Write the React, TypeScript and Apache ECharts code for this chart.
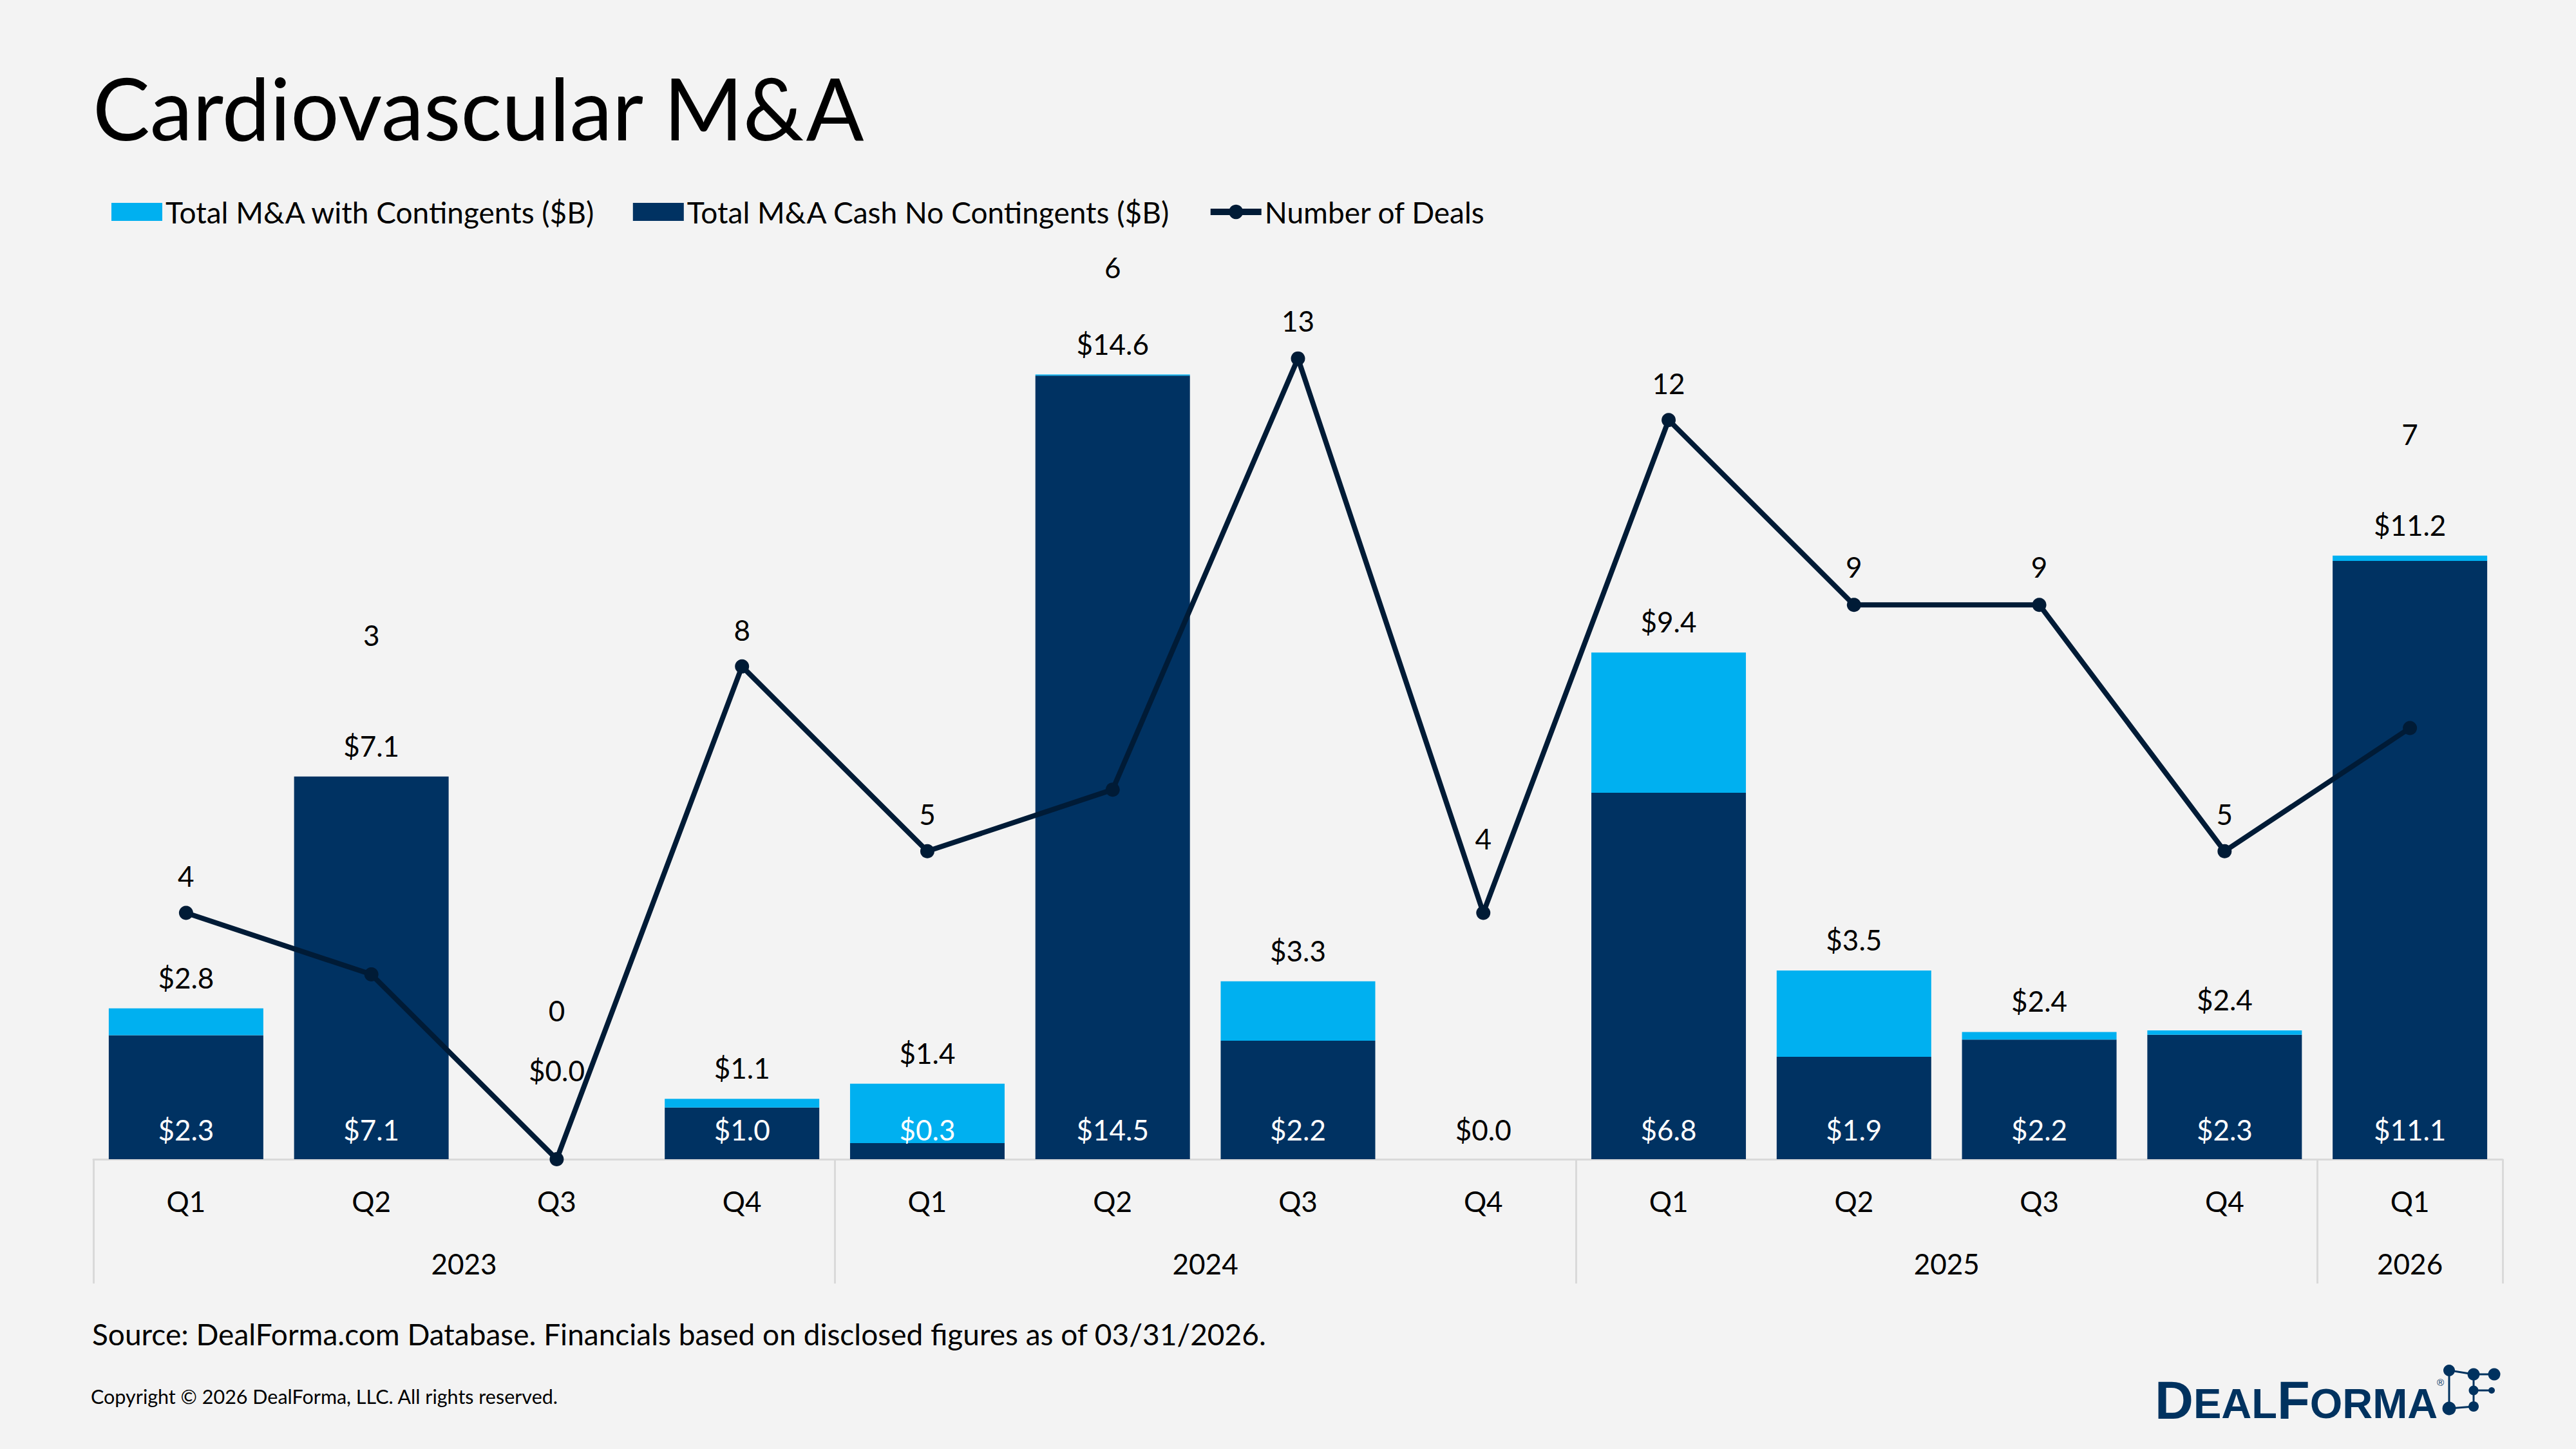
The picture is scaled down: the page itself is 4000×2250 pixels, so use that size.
import React, { useEffect, useRef } from "react";
import * as echarts from "echarts";

// ---------- data ----------
const quarters = ["Q1", "Q2", "Q3", "Q4", "Q1", "Q2", "Q3", "Q4", "Q1", "Q2", "Q3", "Q4", "Q1"];
const years = ["2023", "2024", "2025", "2026"];
const yearBounds = [0, 4, 8, 12, 13]; // quarter index where each year starts / ends
const totalWithContingents: (number | null)[] = [2.8, 7.1, 0.0, 1.12, 1.4, 14.56, 3.3, null, 9.4, 3.5, 2.36, 2.39, 11.2];
const cashNoContingents: (number | null)[] = [2.3, 7.1, null, 0.96, 0.3, 14.54, 2.2, 0.0, 6.8, 1.9, 2.22, 2.31, 11.1];
const numberOfDeals = [4, 3, 0, 8, 5, 6, 13, 4, 12, 9, 9, 5, 7];

// ---------- label layout (pixel lifts, as placed in the original) ----------
const dealLabelLift = [-57, -527, -231, -57, -58, -811, -59, -115, -57, -59, -59, -58, -457];
const totalLabelLift = [0, 0, -90, 0, 0, 0, 0, 0, 0, 0, 0, 0, 0];

const FONT = "Lato, 'Open Sans', 'DejaVu Sans', sans-serif";
const NAVY = "#003262";
const LIGHT = "#00B0F0";
const LINE = "#001B36";
const GRAY = "#D9D9D9";
const LOGO = "#00325F";

const round2 = (v: number) => Math.round(v * 100) / 100;

export default function App() {
  const ref = useRef<HTMLDivElement>(null);

  useEffect(() => {
    const el = ref.current;
    if (!el) return;
    const chart = echarts.init(el, null, { renderer: "svg", width: 4000, height: 2250 });

    const yearCenters = years.map((_, i) => (yearBounds[i] + yearBounds[i + 1]) / 2);

    const cashData = cashNoContingents.map((v) =>
      v === null ? null : v === 0 ? { value: v, label: { color: "#000" } } : { value: v }
    );
    const contData = totalWithContingents.map((t, i) => {
      if (t === null) return null;
      const item: any = { value: round2(t - (cashNoContingents[i] ?? 0)) };
      if (totalLabelLift[i]) item.label = { offset: [0, totalLabelLift[i]] };
      return item;
    });
    const dealData = numberOfDeals.map((v, i) => ({ value: v, label: { offset: [0, dealLabelLift[i]] } }));

    const labelBase = { fontSize: 44, fontFamily: FONT };

    const option: any = {
      animation: false,
      backgroundColor: "#F3F3F3",
      textStyle: { fontFamily: FONT },
      grid: { left: 145, right: 114, top: 461, bottom: 450, containLabel: false, outerBoundsMode: "none" },
      legend: {
        left: 168,
        top: 301,
        itemWidth: 79,
        itemHeight: 28,
        itemGap: 58,
        textStyle: { fontSize: 46, color: "#000", fontFamily: FONT },
        data: [
          { name: "Total M&A with Contingents ($B)", icon: "rect" },
          { name: "Total M&A Cash No Contingents ($B)", icon: "rect" },
          { name: "Number of Deals", lineStyle: { width: 10 } },
        ],
      },
      xAxis: [
        {
          type: "category",
          data: quarters,
          position: "bottom",
          axisLine: { show: true, lineStyle: { color: GRAY, width: 3 } },
          axisTick: { show: false },
          axisLabel: { interval: 0, margin: 43, color: "#000", ...labelBase },
          splitLine: { show: false },
        },
        {
          type: "value",
          min: 0,
          max: 13,
          position: "bottom",
          offset: 0,
          axisLine: { show: false },
          splitLine: { show: false },
          axisTick: { show: true, customValues: yearBounds, length: 193, lineStyle: { color: GRAY, width: 3 } },
          axisLabel: {
            customValues: yearCenters,
            formatter: (v: number) => years[yearCenters.indexOf(v)] ?? "",
            margin: 140,
            color: "#000",
            ...labelBase,
          },
        },
      ],
      yAxis: [
        { type: "value", min: 0, max: 16, show: false },
        { type: "value", min: 0, max: 14, show: false },
      ],
      series: [
        {
          name: "Total M&A Cash No Contingents ($B)",
          type: "bar",
          stack: "ma",
          xAxisIndex: 0,
          yAxisIndex: 0,
          barCategoryGap: "16.6%",
          itemStyle: { color: NAVY },
          label: {
            show: true,
            position: "insideBottom",
            distance: 24,
            color: "#fff",
            ...labelBase,
            formatter: (p: any) => "$" + Number(p.value).toFixed(1),
          },
          data: cashData,
          z: 2,
        },
        {
          name: "Total M&A with Contingents ($B)",
          type: "bar",
          stack: "ma",
          xAxisIndex: 0,
          yAxisIndex: 0,
          barCategoryGap: "16.6%",
          itemStyle: { color: LIGHT },
          label: {
            show: true,
            position: "top",
            distance: 26,
            color: "#000",
            ...labelBase,
            formatter: (p: any) => "$" + Number(totalWithContingents[p.dataIndex]).toFixed(1),
          },
          data: contData,
          z: 2,
        },
        {
          name: "Number of Deals",
          type: "line",
          xAxisIndex: 0,
          yAxisIndex: 1,
          symbol: "circle",
          symbolSize: 22,
          lineStyle: { color: LINE, width: 8 },
          itemStyle: { color: LINE },
          label: { show: true, position: "inside", color: "#000", ...labelBase },
          data: dealData,
          z: 5,
        },
      ],
      graphic: [
        {
          type: "text",
          x: 144,
          y: 166,
          style: { text: "Cardiovascular M&A", fontSize: 133, fontFamily: FONT, fill: "#000", verticalAlign: "middle" },
        },
        {
          type: "text",
          x: 143,
          y: 2071,
          style: {
            text: "Source: DealForma.com Database. Financials based on disclosed figures as of 03/31/2026.",
            fontSize: 46,
            fontFamily: FONT,
            fill: "#000",
            verticalAlign: "middle",
          },
        },
        {
          type: "text",
          x: 141,
          y: 2168,
          style: {
            text: "Copyright © 2026 DealForma, LLC. All rights reserved.",
            fontSize: 30.5,
            fontFamily: FONT,
            fill: "#000",
            verticalAlign: "middle",
          },
        },
        {
          type: "text",
          x: 3346,
          y: 2216,
          style: {
            text: "{b|D}{s|EAL}{b|F}{s|ORMA}",
            verticalAlign: "bottom",
            rich: {
              b: { fontSize: 83, fontWeight: "bold", fontFamily: "'Liberation Sans', Arial, sans-serif", fill: LOGO, verticalAlign: "bottom" },
              s: { fontSize: 65, fontWeight: "bold", fontFamily: "'Liberation Sans', Arial, sans-serif", fill: LOGO, verticalAlign: "bottom", padding: [0, 0, 4, 0] },
            },
          },
        },
        {
          type: "text",
          x: 3784,
          y: 2146,
          style: { text: "®", fontSize: 15, fontFamily: "'Liberation Sans', sans-serif", fill: LOGO, verticalAlign: "middle" },
        },
        // molecule mark
        { type: "line", shape: { x1: 3803, y1: 2128, x2: 3841, y2: 2134 }, style: { stroke: LOGO, lineWidth: 3 } },
        { type: "line", shape: { x1: 3841, y1: 2134, x2: 3873, y2: 2134 }, style: { stroke: LOGO, lineWidth: 3 } },
        { type: "line", shape: { x1: 3803, y1: 2128, x2: 3803, y2: 2187 }, style: { stroke: LOGO, lineWidth: 3 } },
        { type: "line", shape: { x1: 3841, y1: 2134, x2: 3841, y2: 2184 }, style: { stroke: LOGO, lineWidth: 3 } },
        { type: "line", shape: { x1: 3841, y1: 2159, x2: 3869, y2: 2159 }, style: { stroke: LOGO, lineWidth: 3 } },
        { type: "line", shape: { x1: 3803, y1: 2187, x2: 3841, y2: 2184 }, style: { stroke: LOGO, lineWidth: 3 } },
        { type: "circle", shape: { cx: 3803, cy: 2128, r: 9 }, style: { fill: LOGO } },
        { type: "circle", shape: { cx: 3841, cy: 2134, r: 9.5 }, style: { fill: LOGO } },
        { type: "circle", shape: { cx: 3873, cy: 2134, r: 9.5 }, style: { fill: LOGO } },
        { type: "circle", shape: { cx: 3841, cy: 2159, r: 7.5 }, style: { fill: LOGO } },
        { type: "circle", shape: { cx: 3869, cy: 2159, r: 5 }, style: { fill: LOGO } },
        { type: "circle", shape: { cx: 3803, cy: 2187, r: 10.5 }, style: { fill: LOGO } },
        { type: "circle", shape: { cx: 3841, cy: 2184, r: 8 }, style: { fill: LOGO } },
      ],
    };

    chart.setOption(option);
    return () => chart.dispose();
  }, []);

  return (
    <div
      ref={ref}
      style={{ position: "fixed", left: 0, top: 0, width: 4000, height: 2250, background: "#F3F3F3" }}
    />
  );
}
